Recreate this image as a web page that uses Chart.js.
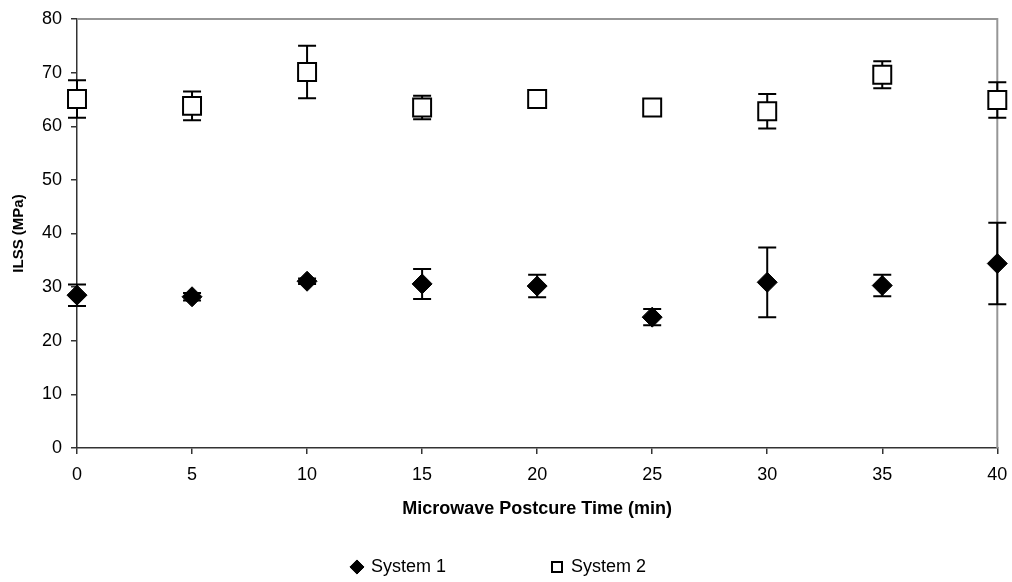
<!DOCTYPE html>
<html>
<head>
<meta charset="utf-8">
<script src="https://cdn.jsdelivr.net/npm/chart.js@4/dist/chart.umd.min.js"></script>
<style>
  html, body { margin: 0; padding: 0; background: #fff; }
  #wrap { width: 1012px; height: 582px; }
</style>
</head>
<body>
<div id="wrap"><canvas id="chartILSS"></canvas></div>
<script>
const times = [0, 5, 10, 15, 20, 25, 30, 35, 40];
const sys1 = [28.5, 28.2, 31.1, 30.6, 30.2, 24.4, 30.9, 30.3, 34.4];
const sys1Err = [2.0, 0.7, 0.5, 2.8, 2.1, 1.5, 6.5, 2.0, 7.6];
const sys2 = [65.1, 63.8, 70.1, 63.5, 65.1, 63.5, 62.8, 69.6, 64.9];
const sys2Err = [3.5, 2.7, 4.9, 2.2, 1.5, 0.8, 3.2, 2.5, 3.3];
const yTicks = [0, 80, 10];
const xTicks = [0, 40, 5];

const FONT = "'Liberation Sans', Arial, sans-serif";
const LEGEND_MID = 567;

// error bars + grey frame on top/right, drawn under the markers
const errorBars = {
  id: 'errorBars',
  beforeDatasetsDraw(chart){
    const {ctx, chartArea: a, scales: {x, y}} = chart;
    ctx.save();
    ctx.strokeStyle = '#969696';
    ctx.lineWidth = 2;
    ctx.beginPath();
    ctx.moveTo(a.left, a.top);
    ctx.lineTo(a.right, a.top);
    ctx.lineTo(a.right, a.bottom);
    ctx.stroke();

    ctx.strokeStyle = '#000';
    ctx.lineWidth = 2;
    [[sys1, sys1Err], [sys2, sys2Err]].forEach(([vals, errs])=>{
      vals.forEach((v, i)=>{
        const px = x.getPixelForValue(times[i]);
        const top = y.getPixelForValue(v + errs[i]);
        const bot = y.getPixelForValue(v - errs[i]);
        ctx.beginPath();
        ctx.moveTo(px, top); ctx.lineTo(px, bot);
        ctx.moveTo(px - 9, top); ctx.lineTo(px + 9, top);
        ctx.moveTo(px - 9, bot); ctx.lineTo(px + 9, bot);
        ctx.stroke();
      });
    });
    ctx.restore();
  }
};

// put legend row where the reference has it (legend clips to its own box)
const legendPlace = {
  id: 'legendPlace',
  afterLayout(chart){
    const lg = chart.legend;
    const pad = lg.options.labels.padding;
    lg.top = LEGEND_MID - 9 - pad;
    lg.bottom = chart.height;
    lg.height = lg.bottom - lg.top;
  }
};

new Chart(document.getElementById('chartILSS'), {
  type: 'scatter',
  data: {
    datasets: [
      {
        label: 'System 1',
        data: times.map((t, i)=>({x: t, y: sys1[i]})),
        pointStyle: 'rectRot',
        pointRadius: 10, pointHoverRadius: 10,
        pointBackgroundColor: '#000', pointBorderColor: '#000', pointBorderWidth: 1,
        backgroundColor: '#000', borderColor: '#000',
        showLine: false, clip: false
      },
      {
        label: 'System 2',
        data: times.map((t, i)=>({x: t, y: sys2[i]})),
        pointStyle: 'rect',
        pointRadius: 12.7, pointHoverRadius: 12.7,
        pointBackgroundColor: '#fff', pointBorderColor: '#000', pointBorderWidth: 2,
        backgroundColor: '#fff', borderColor: '#000',
        showLine: false, clip: false
      }
    ]
  },
  options: {
    responsive: true,
    maintainAspectRatio: false,
    animation: false,
    events: [],
    layout: { padding: { top: 19, right: 14, bottom: 0, left: 0 } },
    scales: {
      x: {
        type: 'linear',
        min: xTicks[0], max: xTicks[1],
        ticks: { stepSize: xTicks[2], color: '#000', font: { family: FONT, size: 18 }, padding: 10 },
        grid: { display: true, drawOnChartArea: false, drawTicks: true, tickLength: 6, color: '#333', lineWidth: 1.5 },
        border: { display: true, color: '#333', width: 1.5 },
        title: { display: true, text: 'Microwave Postcure Time (min)', color: '#000',
                 font: { family: FONT, size: 18, weight: 'bold' }, padding: { top: 0, bottom: 22 } },
        afterFit(scale){ scale.height = 94; scale.paddingLeft = 0; scale.paddingRight = 0; }
      },
      y: {
        min: yTicks[0], max: yTicks[1],
        ticks: { stepSize: yTicks[2], color: '#000', font: { family: FONT, size: 18 }, padding: 9 },
        grid: { display: true, drawOnChartArea: false, drawTicks: true, tickLength: 6, color: '#333', lineWidth: 1.5 },
        border: { display: true, color: '#333', width: 1.5 },
        title: { display: true, text: 'ILSS (MPa)', color: '#000',
                 font: { family: FONT, size: 15, weight: 'bold' }, padding: { top: 10, bottom: 0 } },
        afterFit(scale){ scale.width = 77; scale.paddingTop = 0; scale.paddingBottom = 0; }
      }
    },
    plugins: {
      legend: {
        position: 'bottom',
        maxHeight: 40,
        labels: {
          usePointStyle: true, boxWidth: 10, boxHeight: 10, padding: 106,
          color: '#000', font: { family: FONT, size: 18 }
        }
      },
      tooltip: { enabled: false }
    }
  },
  plugins: [errorBars, legendPlace]
});
</script>
</body>
</html>
